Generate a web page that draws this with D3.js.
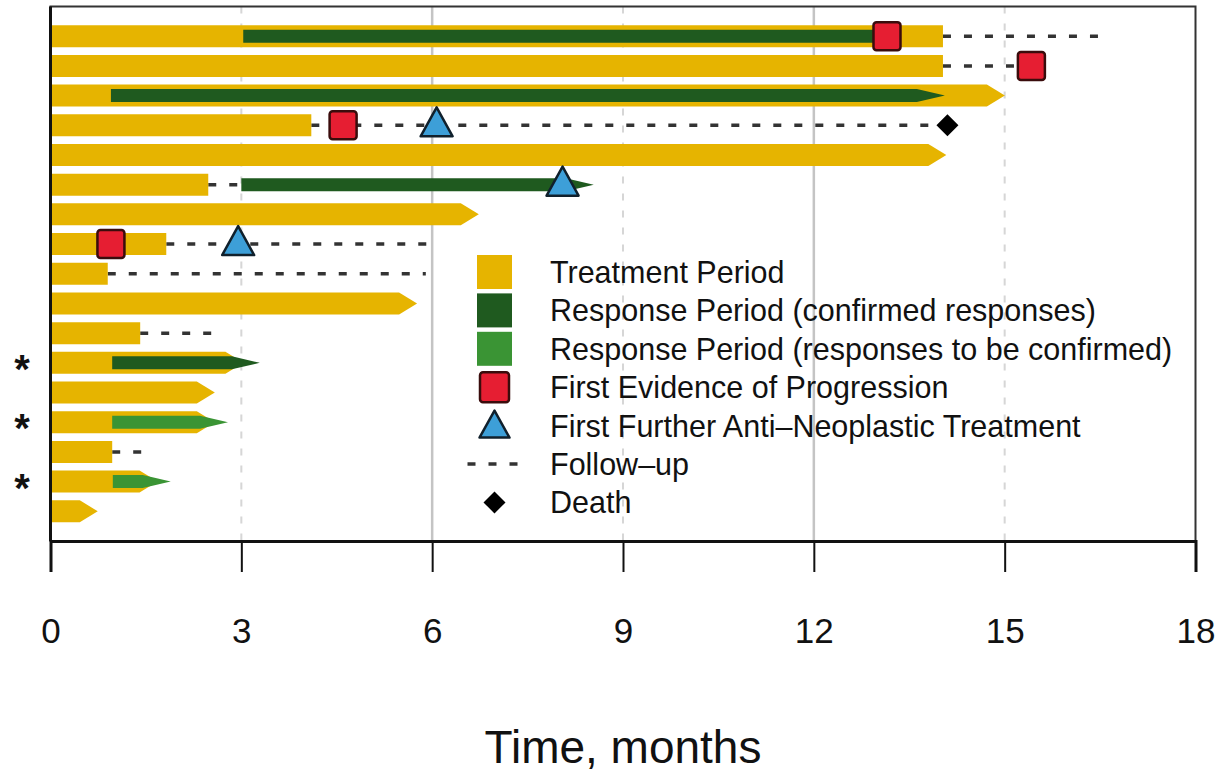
<!DOCTYPE html>
<html>
<head>
<meta charset="utf-8">
<script src="https://cdn.jsdelivr.net/npm/d3@7"></script>
<style>
  body { margin: 0; background: #fff; }
  text { font-family: "Liberation Sans", Arial, Helvetica, sans-serif; fill: #111; }
</style>
</head>
<body>
<script>
// Swimmer plot data, one entry per patient, top row first (months).
var trtEnd      = [14.03, 14.03, 14.72, 4.1, 13.8, 2.48, 6.45, 1.82, 0.9, 5.48, 1.41, 2.75, 2.3, 2.3, 0.97, 1.4, 0.46];
var trtOngoing  = [0, 0, 1, 0, 1, 0, 1, 0, 0, 1, 0, 1, 1, 1, 0, 1, 1];
var respStart   = [3.03, null, 0.95, null, null, 3.0, null, null, null, null, null, 0.97, null, 0.97, null, 0.98, null];
var respEnd     = [13.15, null, 13.62, null, null, 8.1, null, null, null, null, null, 2.85, null, 2.35, null, 1.45, null];
var respOngoing = [0, 0, 1, 0, 0, 1, 0, 0, 0, 0, 0, 1, 0, 1, 0, 1, 0];
var respConfirmed = [1, 0, 1, 0, 0, 1, 0, 0, 0, 0, 0, 1, 0, 0, 0, 0, 0];
var progTime    = [13.15, 15.42, null, 4.6, null, null, null, 0.95, null, null, null, null, null, null, null, null, null];
var antiTime    = [null, null, null, 6.07, null, 8.05, null, 2.95, null, null, null, null, null, null, null, null, null];
var fuStart     = [14.03, 14.03, null, 4.1, null, 2.48, null, 1.82, 0.9, null, 1.41, null, null, null, 0.97, null, null];
var fuEnd       = [16.6, 15.42, null, 14.1, null, 3.0, null, 6.0, 5.9, null, 2.72, null, null, null, 1.62, null, null];
var deathTime   = [null, null, null, 14.1, null, null, null, null, null, null, null, null, null, null, null, null, null];
var starred     = [0, 0, 0, 0, 0, 0, 0, 0, 0, 0, 0, 1, 0, 1, 0, 1, 0];

var xTicks = [0, 3, 6, 9, 12, 15, 18];
var legendLabels = [
    "Treatment Period",
    "Response Period (confirmed responses)",
    "Response Period (responses to be confirmed)",
    "First Evidence of Progression",
    "First Further Anti\u2013Neoplastic Treatment",
    "Follow\u2013up",
    "Death"
];

// Colours.
var cTrt = "#e6b400", cConf = "#1f5a1f", cTbc = "#3a9434",
    cProg = "#e61e32", cAnti = "#3d9fd8";

var width = 1221, height = 773;
var svg = d3.select("body").append("svg")
    .attr("width", width)
    .attr("height", height);

var x = d3.scaleLinear().domain([0, 18]).range([50.5, 1195.5]);
var y = d3.scaleLinear().domain([0, 18]).range([541, 6.5]);
var n = trtEnd.length;
function rowY(i) { return y(n - i); }

var trtH = 22, respH = 13, trtArrow = 18, respArrow = 28;

// Grid lines.
svg.append("g").selectAll("line")
    .data([3, 6, 9, 12, 15])
  .enter().append("line")
    .attr("x1", d => x(d)).attr("x2", d => x(d))
    .attr("y1", y(18)).attr("y2", y(0))
    .attr("stroke", d => d % 6 === 0 ? "#c4c4c4" : "#d6d6d6")
    .attr("stroke-width", d => d % 6 === 0 ? 2.5 : 2)
    .attr("stroke-dasharray", d => d % 6 === 0 ? null : "7,10");

// Bar shape with optional arrow head.
function barPath(x0, x1, yc, h, arrow) {
    var p = d3.path();
    p.moveTo(x0, yc - h / 2);
    p.lineTo(x1, yc - h / 2);
    if (arrow) p.lineTo(x1 + arrow, yc);
    p.lineTo(x1, yc + h / 2);
    p.lineTo(x0, yc + h / 2);
    p.closePath();
    return p.toString();
}

var rows = d3.range(n);

// Follow-up lines.
svg.append("g").selectAll("line")
    .data(rows.filter(i => fuStart[i] !== null))
  .enter().append("line")
    .attr("x1", i => x(fuStart[i])).attr("x2", i => x(fuEnd[i]))
    .attr("y1", rowY).attr("y2", rowY)
    .attr("stroke", "#333")
    .attr("stroke-width", 3.5)
    .attr("stroke-dasharray", "8,13");

// Treatment bars.
svg.append("g").selectAll("path")
    .data(rows)
  .enter().append("path")
    .attr("d", i => barPath(x(0), x(trtEnd[i]), rowY(i), trtH, trtOngoing[i] ? trtArrow : 0))
    .attr("fill", cTrt);

// Response bars.
svg.append("g").selectAll("path")
    .data(rows.filter(i => respStart[i] !== null))
  .enter().append("path")
    .attr("d", i => barPath(x(respStart[i]), x(respEnd[i]), rowY(i), respH, respOngoing[i] ? respArrow : 0))
    .attr("fill", i => respConfirmed[i] ? cConf : cTbc);

// Progression squares.
svg.append("g").selectAll("rect")
    .data(rows.filter(i => progTime[i] !== null))
  .enter().append("rect")
    .attr("x", i => x(progTime[i]) - 13.5)
    .attr("y", i => rowY(i) - 14)
    .attr("width", 27).attr("height", 28)
    .attr("rx", 3)
    .attr("fill", cProg)
    .attr("stroke", "#3a0c0c")
    .attr("stroke-width", 2.5);

function triPath(cx, cy) {
    return "M" + cx + "," + (cy - 18) + "L" + (cx + 16) + "," + (cy + 11) + "L" + (cx - 16) + "," + (cy + 11) + "Z";
}
function diamondPath(cx, cy) {
    return "M" + cx + "," + (cy - 11) + "L" + (cx + 11) + "," + cy + "L" + cx + "," + (cy + 11) + "L" + (cx - 11) + "," + cy + "Z";
}

// Anti-neoplastic treatment triangles.
svg.append("g").selectAll("path")
    .data(rows.filter(i => antiTime[i] !== null))
  .enter().append("path")
    .attr("d", i => triPath(x(antiTime[i]), rowY(i)))
    .attr("fill", cAnti)
    .attr("stroke", "#10202c")
    .attr("stroke-width", 2.5)
    .attr("stroke-linejoin", "round");

// Death diamonds.
svg.append("g").selectAll("path")
    .data(rows.filter(i => deathTime[i] !== null))
  .enter().append("path")
    .attr("d", i => diamondPath(x(deathTime[i]), rowY(i)))
    .attr("fill", "#000");

// Stars for responses.
svg.append("g").selectAll("text")
    .data(rows.filter(i => starred[i]))
  .enter().append("text")
    .attr("x", 22)
    .attr("y", i => rowY(i) + 20)
    .attr("text-anchor", "middle")
    .attr("font-size", "40px")
    .attr("font-weight", "bold")
    .text("*");

// Box.
svg.append("rect")
    .attr("x", x(0)).attr("y", y(18))
    .attr("width", x(18) - x(0)).attr("height", y(0) - y(18))
    .attr("fill", "none")
    .attr("stroke", "#333")
    .attr("stroke-width", 2);
svg.append("line")
    .attr("x1", x(0)).attr("x2", x(0))
    .attr("y1", y(18)).attr("y2", y(0))
    .attr("stroke", "#111").attr("stroke-width", 3);

// X axis.
var xAxis = svg.append("g")
    .attr("transform", "translate(0," + y(0) + ")")
    .call(d3.axisBottom(x).tickValues(xTicks).tickSize(31).tickPadding(46));
xAxis.select(".domain").attr("stroke", "#111").attr("stroke-width", 3);
xAxis.selectAll(".tick line").attr("stroke", "#111").attr("stroke-width", 2);
xAxis.selectAll(".tick text")
    .attr("font-size", "35px")
    .attr("font-family", "Liberation Sans, Arial, sans-serif")
    .attr("fill", "#111");

svg.append("text")
    .attr("x", x(9))
    .attr("y", 763)
    .attr("text-anchor", "middle")
    .attr("font-size", "46px")
    .text("Time, months");

// Legend.
var lgX = 494.5, lgY0 = 272, lgStep = 38.4, lgText = 550;
var legend = svg.append("g");
legendLabels.forEach(function(label, i) {
    var cy = lgY0 + i * lgStep;
    if (i < 3) {
        legend.append("rect")
            .attr("x", lgX - 17.5).attr("y", cy - 17)
            .attr("width", 35).attr("height", 34)
            .attr("fill", [cTrt, cConf, cTbc][i]);
    } else if (i === 3) {
        legend.append("rect")
            .attr("x", lgX - 14.5).attr("y", cy - 15)
            .attr("width", 29).attr("height", 30)
            .attr("rx", 3)
            .attr("fill", cProg)
            .attr("stroke", "#3a0c0c").attr("stroke-width", 2.5);
    } else if (i === 4) {
        legend.append("path")
            .attr("d", "M" + lgX + "," + (cy - 15) + "L" + (lgX + 15) + "," + (cy + 12) + "L" + (lgX - 15) + "," + (cy + 12) + "Z")
            .attr("fill", cAnti)
            .attr("stroke", "#10202c").attr("stroke-width", 2.5)
            .attr("stroke-linejoin", "round");
    } else if (i === 5) {
        legend.append("line")
            .attr("x1", lgX - 27).attr("x2", lgX + 29)
            .attr("y1", cy).attr("y2", cy)
            .attr("stroke", "#333").attr("stroke-width", 3.5)
            .attr("stroke-dasharray", "8,13");
    } else {
        legend.append("path")
            .attr("d", diamondPath(lgX, cy))
            .attr("fill", "#000");
    }
    legend.append("text")
        .attr("x", lgText)
        .attr("y", cy + 11)
        .attr("font-size", "30.5px")
        .text(label);
});
</script>
</body>
</html>
